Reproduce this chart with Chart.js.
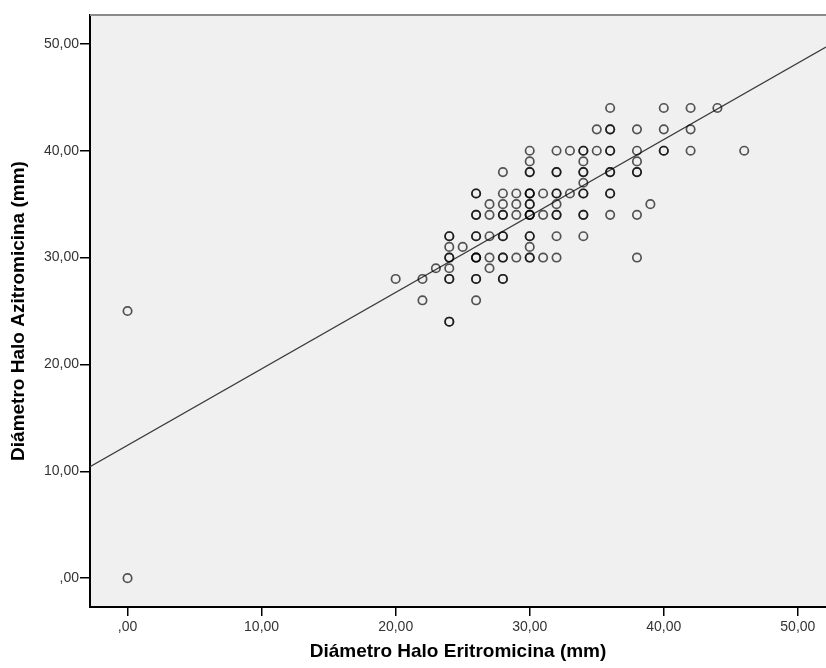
<!DOCTYPE html>
<html>
<head>
<meta charset="utf-8">
<script src="https://cdn.jsdelivr.net/npm/chart.js@4"></script>
<style>
  html, body { margin: 0; padding: 0; background: #fff; }
  #wrap { width: 826px; height: 668px; }
</style>
</head>
<body>
<div id="wrap"><canvas id="c" width="826" height="668"></canvas></div>
<script>
// Eritromicina (x), Azitromicina (y), number of overlapping cases at that spot
const eritro = [0,0,20,22,22,23,
  24,24,24,24,24,24,25,
  26,26,26,26,26,26,
  27,27,27,27,27,
  28,28,28,28,28,28,28,
  29,29,29,29,
  30,30,30,30,30,30,30,30,30,
  31,31,31,
  32,32,32,32,32,32,32,
  33,33,
  34,34,34,34,34,34,34,
  35,35,
  36,36,36,36,36,36,
  38,38,38,38,38,38,
  39,40,40,40,42,42,42,44,46];
const azitro = [25,0,28,28,26,29,
  32,31,30,29,28,24,31,
  36,34,32,30,28,26,
  35,34,32,30,29,
  38,36,35,34,32,30,28,
  36,35,34,30,
  40,39,38,36,35,34,32,31,30,
  36,34,30,
  40,38,36,35,34,32,30,
  40,36,
  40,39,38,37,36,34,32,
  42,40,
  44,42,40,38,36,34,
  42,40,39,38,34,30,
  35,44,42,40,44,42,40,44,40];
const cases = [1,1,1,1,1,1,
  2,1,2,1,2,2,1,
  2,2,2,3,2,1,
  1,1,1,1,1,
  1,1,1,2,2,2,2,
  1,1,1,1,
  1,1,2,3,2,3,2,1,2,
  1,1,1,
  1,2,2,1,2,1,1,
  1,1,
  2,1,2,1,2,2,1,
  1,1,
  1,2,2,2,2,1,
  1,1,1,2,1,1,
  1,1,1,2,1,1,1,1,1];
// Fit line end points (read at the plot edges)
const fitX = [-2.8, 52.1];
const fitY = [10.43, 49.7];
const tickVals = [0, 10, 20, 30, 40, 50];
const xTitle = 'Diámetro Halo Eritromicina (mm)';
const yTitle = 'Diámetro Halo Azitromicina (mm)';

const pts = [];
eritro.forEach((x, i) => { for (let k = 0; k < cases[i]; k++) pts.push({x: x, y: azitro[i]}); });
const fitPts = fitX.map((x, i) => ({x: x, y: fitY[i]}));

const fmt = v => v === 0 ? ',00' : v.toFixed(2).replace('.', ',');
const tickFont = { family: 'Liberation Sans', size: 14 };
const titleFont = { family: 'Liberation Sans', size: 19, weight: 'bold' };

const bgPlugin = {
  id: 'bg',
  beforeDraw(chart) {
    const {ctx, chartArea: a} = chart;
    ctx.save();
    ctx.fillStyle = '#ffffff';
    ctx.fillRect(0, 0, chart.width, chart.height);
    ctx.fillStyle = '#f0f0f0';
    ctx.fillRect(a.left, a.top, a.right - a.left, a.bottom - a.top);
    ctx.restore();
  },
  afterDraw(chart) {
    const {ctx, chartArea: a} = chart;
    ctx.save();
    ctx.strokeStyle = '#8a8a8a';
    ctx.lineWidth = 2;
    ctx.beginPath();
    ctx.moveTo(a.left, a.top);
    ctx.lineTo(a.right, a.top);
    ctx.stroke();
    ctx.restore();
  }
};

new Chart(document.getElementById('c'), {
  type: 'scatter',
  data: {
    datasets: [
      {
        type: 'line',
        data: fitPts,
        borderColor: '#3a3a3a',
        borderWidth: 1.3,
        pointRadius: 0,
        fill: false,
        order: 2
      },
      {
        data: pts,
        pointStyle: 'circle',
        pointRadius: 4.2,
        pointHoverRadius: 4.2,
        borderWidth: 1.7,
        borderColor: 'rgba(0,0,0,0.66)',
        backgroundColor: 'rgba(0,0,0,0)',
        order: 1
      }
    ]
  },
  options: {
    responsive: false,
    animation: false,
    devicePixelRatio: 1,
    layout: { autoPadding: false, padding: { top: 15, right: 0, bottom: 0, left: 0 } },
    plugins: { legend: { display: false }, tooltip: { enabled: false } },
    scales: {
      x: {
        type: 'linear',
        min: -2.8, max: 52.1,
        afterBuildTicks: s => { s.ticks = tickVals.map(v => ({value: v})); },
        afterFit: s => { s.height = 61; },
        ticks: { callback: fmt, font: tickFont, color: '#333', padding: 3, maxRotation: 0 },
        grid: { drawOnChartArea: false, drawTicks: true, tickLength: 9, color: '#000', lineWidth: 1.5 },
        border: { display: true, color: '#000', width: 2 },
        title: { display: true, text: xTitle, font: titleFont, color: '#000', padding: { top: 0, bottom: 5 } }
      },
      y: {
        type: 'linear',
        min: -2.7, max: 52.7,
        afterBuildTicks: s => { s.ticks = tickVals.map(v => ({value: v})); },
        afterFit: s => { s.width = 90; },
        ticks: { callback: fmt, font: tickFont, color: '#333', padding: 1 },
        grid: { drawOnChartArea: false, drawTicks: true, tickLength: 10, color: '#000', lineWidth: 1.5 },
        border: { display: true, color: '#000', width: 2 },
        title: { display: true, text: yTitle, font: titleFont, color: '#000', padding: { top: 7, bottom: 0 } }
      }
    }
  },
  plugins: [bgPlugin]
});
</script>
</body>
</html>
